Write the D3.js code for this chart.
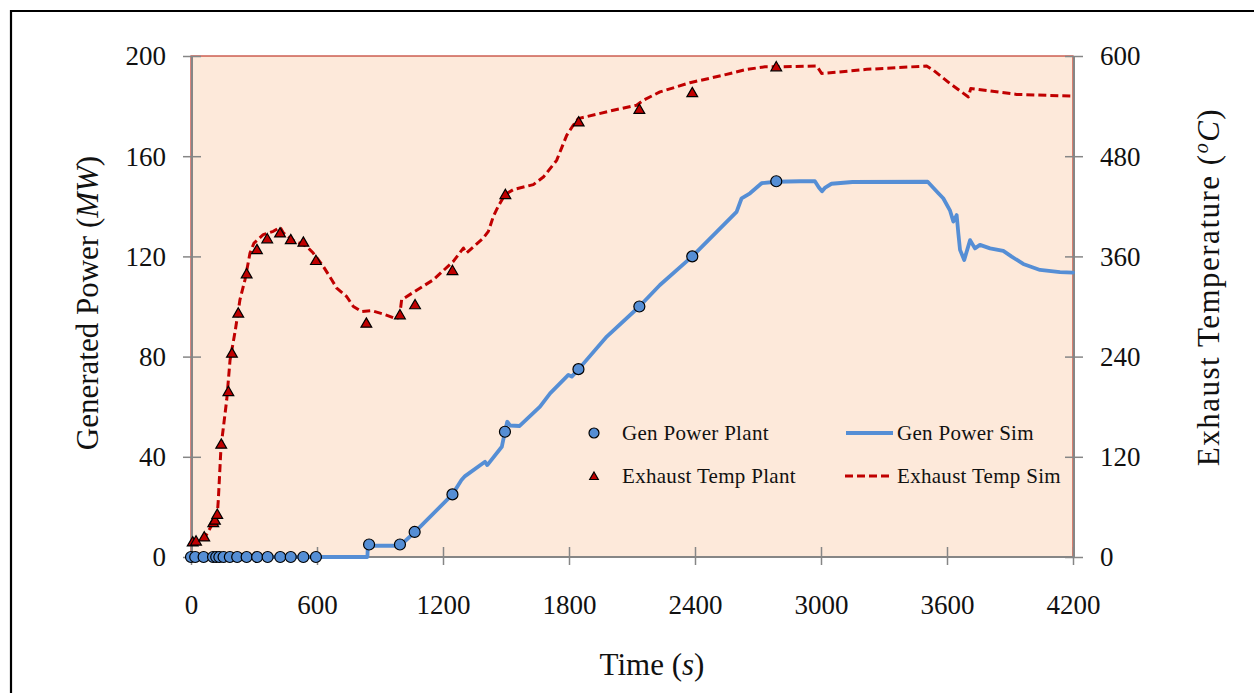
<!DOCTYPE html>
<html><head><meta charset="utf-8">
<script src="https://cdn.jsdelivr.net/npm/d3@7/dist/d3.min.js"></script>
<style>
html,body{margin:0;padding:0;background:#fff;}
svg text{font-family:"Liberation Serif","Times New Roman",serif;fill:#111;}
</style></head>
<body>
<svg id="chart" width="1254" height="693"></svg>
<script>
// ---------- DATA ----------
const xTicks = [0, 600, 1200, 1800, 2400, 3000, 3600, 4200];
const yLeftTicks = [0, 40, 80, 120, 160, 200];
const yRightTicks = [0, 120, 240, 360, 480, 600];

// Gen Power Plant (time s, MW)
const powerPlantT = [0,20,60,105,120,135,155,185,220,265,315,365,425,475,535,595,848,995,1065,1245,1495,1845,2135,2387,2787];
const powerPlantV = [0,0,0,0,0,0,0,0,0,0,0,0,0,0,0,0,5,5,10,25,50,75,100,120,150];

// Exhaust Temp Plant (time s, °C)
const tempPlantT = [8,24,63,106,114,125,144,178,195,225,265,314,363,424,475,535,595,835,995,1067,1245,1497,1846,2135,2387,2787];
const tempPlantV = [17,18,23,40,43,50,134,197,243,291,338,367,380,387,379,376,354,279,289,301,342,433,520,535,555,586];

// Gen Power Sim (time s, MW)
const powerSimT = [0,840,842,995,1067,1245,1288,1305,1400,1411,1480,1495,1506,1519,1565,1662,1710,1797,1813,1846,1980,2135,2233,2387,2598,2622,2662,2717,2786,2900,2971,2990,3005,3020,3050,3150,3508,3559,3582,3614,3630,3646,3654,3662,3682,3710,3733,3757,3805,3868,3908,3963,4043,4138,4200];
const powerSimV = [0,0,4.5,4.5,10,25,30.7,32.3,38,36.7,44,50,54,52.5,52.3,60,65.3,72.7,72,75,88,100,108.6,120,137.8,143.2,145.2,149.2,149.8,150,150,147.5,146,147.5,149,149.7,149.8,145.2,143.2,138.4,133.9,136.5,129.2,122.6,118.6,126.5,123.2,124.6,123.2,122.2,119.9,117,114.6,113.7,113.5];

// Exhaust Temp Sim (time s, °C)
const tempSimT = [0,8,67,90,125,130,143,170,186,210,233,257,281,300,344,392,424,440,487,551,582,630,670,694,741,773,813,860,916,980,995,1003,1059,1154,1249,1297,1311,1392,1416,1440,1463,1495,1535,1630,1678,1741,1765,1789,1820,1844,2011,2122,2154,2233,2376,2535,2646,2733,2789,2980,3003,3218,3503,3535,3614,3702,3713,3932,4200];
const tempSimV = [15,16,24,34,50,68,132,188,236,270,308,332,364,376,386,390,395,388,379,372,364,348,332,322,312,300,294,295,291,285,292,308,317,332,354,370,364,382,390,408,420,434,440,446,455,475,490,505,517,525,535,541,547,557,568,577,584,587,587,588,579,584,588,583,567,551,561,554,552];

const legendLabels = ["Gen Power Plant", "Gen Power Sim", "Exhaust Temp Plant", "Exhaust Temp Sim"];

// ---------- STYLE ----------
const blue = "#558ED5", red = "#C00000", bg = "#FDE9DA", axisGray = "#868686";

const svg = d3.select("#chart");
const L = 191, R = 1073, T = 56, B = 557;

const x = d3.scaleLinear().domain([0, 4200]).range([L, R]);
const yL = d3.scaleLinear().domain([0, 200]).range([B, T]);
const yR = d3.scaleLinear().domain([0, 600]).range([B, T]);

// outer frame
svg.append("path").attr("d", "M11,693V11H1254").attr("fill", "none").attr("stroke", "#000").attr("stroke-width", 2.2);

// plot area
svg.append("rect").attr("x", L).attr("y", T).attr("width", R - L).attr("height", B - T)
  .attr("fill", bg).attr("stroke", "#C0392B").attr("stroke-width", 1.2);

// axes
const gL = svg.append("g").attr("transform", `translate(${L + 1},0)`)
  .call(d3.axisLeft(yL).tickValues(yLeftTicks).tickSize(8).tickPadding(0).tickFormat(d3.format("d")));
const gR = svg.append("g").attr("transform", `translate(${R + 1},0)`)
  .call(d3.axisRight(yR).tickValues(yRightTicks).tickSize(8).tickPadding(0).tickFormat(d3.format("d")));
const gB = svg.append("g").attr("transform", `translate(0,${B})`)
  .call(d3.axisBottom(x).tickValues(xTicks).tickSize(8).tickPadding(0).tickFormat(d3.format("d")));

[gL, gR, gB].forEach(g => {
  g.select(".domain").attr("stroke", axisGray).attr("stroke-width", 2);
  g.selectAll(".tick line").attr("stroke", axisGray).attr("stroke-width", 1.5);
  g.selectAll("text").attr("font-size", 27).attr("font-family", "Liberation Serif").attr("fill", "#111");
});
gL.selectAll(".tick line").attr("x1", 9).attr("x2", -9);
gL.selectAll(".tick text").attr("x", -26).attr("dy", "0.33em");
gR.selectAll(".tick line").attr("x1", -9).attr("x2", 9);
gR.selectAll(".tick text").attr("x", 26).attr("dy", "0.33em");
gB.selectAll(".tick line").attr("y1", -10).attr("y2", 8);
gB.selectAll(".tick text").attr("y", 57).attr("dy", 0);
gL.select(".domain").attr("d", `M0,${B}V${T}`);
gR.select(".domain").attr("d", `M0,${B}V${T}`);
gB.select(".domain").attr("d", `M${L},0H${R + 1}`);

// series
const lineP = d3.line().x(d => x(d[0])).y(d => yL(d[1]));
const lineT = d3.line().x(d => x(d[0])).y(d => yR(d[1]));

svg.append("path").datum(powerSimT.map((t, i) => [t, powerSimV[i]]))
  .attr("d", lineP).attr("fill", "none").attr("stroke", blue).attr("stroke-width", 3.8)
  .attr("stroke-linejoin", "round").attr("stroke-linecap", "round");

svg.append("path").datum(tempSimT.map((t, i) => [t, tempSimV[i]]))
  .attr("d", lineT).attr("fill", "none").attr("stroke", red).attr("stroke-width", 3)
  .attr("stroke-dasharray", "8,4").attr("stroke-linejoin", "round");

const tri = d3.symbol().type(d3.symbolTriangle).size(50);
svg.append("g").selectAll("path").data(tempPlantT.map((t, i) => [t, tempPlantV[i]])).join("path")
  .attr("d", tri).attr("transform", d => `translate(${x(d[0])},${yR(d[1])})`)
  .attr("fill", red).attr("stroke", "#000").attr("stroke-width", 1.2);

svg.append("g").selectAll("circle").data(powerPlantT.map((t, i) => [t, powerPlantV[i]])).join("circle")
  .attr("cx", d => x(d[0])).attr("cy", d => yL(d[1])).attr("r", 5.5)
  .attr("fill", blue).attr("stroke", "#000").attr("stroke-width", 1.2);

// legend
const lg = svg.append("g");
lg.append("circle").attr("cx", 594).attr("cy", 433).attr("r", 5).attr("fill", blue).attr("stroke", "#000").attr("stroke-width", 1.2);
lg.append("path").attr("d", d3.symbol().type(d3.symbolTriangle).size(32)).attr("transform", "translate(594,477)")
  .attr("fill", red).attr("stroke", "#000").attr("stroke-width", 1.2);
lg.append("line").attr("x1", 846).attr("x2", 893).attr("y1", 433).attr("y2", 433).attr("stroke", blue).attr("stroke-width", 3.8);
lg.append("line").attr("x1", 845).attr("x2", 893).attr("y1", 476).attr("y2", 476).attr("stroke", red).attr("stroke-width", 3).attr("stroke-dasharray", "8,4");
const legPos = [[622, 440], [897, 440], [622, 483], [897, 483]];
legendLabels.forEach((s, i) => {
  lg.append("text").attr("x", legPos[i][0]).attr("y", legPos[i][1]).attr("font-size", 21)
    .attr("letter-spacing", 0.3).text(s);
});

// axis titles
const tL = svg.append("text").attr("transform", "translate(98,303) rotate(-90)").attr("text-anchor", "middle").attr("font-size", 31);
tL.append("tspan").text("Generated Power (");
tL.append("tspan").attr("font-style", "italic").text("MW");
tL.append("tspan").text(")");

const tR = svg.append("text").attr("transform", "translate(1219,287) rotate(-90)").attr("text-anchor", "middle")
  .attr("font-size", 31).attr("letter-spacing", 1.5);
tR.append("tspan").text("Exhaust Temperature (");
tR.append("tspan").attr("font-style", "italic").attr("font-size", 20).attr("dy", -11).text("o");
tR.append("tspan").attr("font-style", "italic").attr("dy", 11).text("C");
tR.append("tspan").text(")");

const tB = svg.append("text").attr("x", 652).attr("y", 675).attr("text-anchor", "middle").attr("font-size", 31);
tB.append("tspan").text("Time (");
tB.append("tspan").attr("font-style", "italic").text("s");
tB.append("tspan").text(")");
</script>
</body></html>
